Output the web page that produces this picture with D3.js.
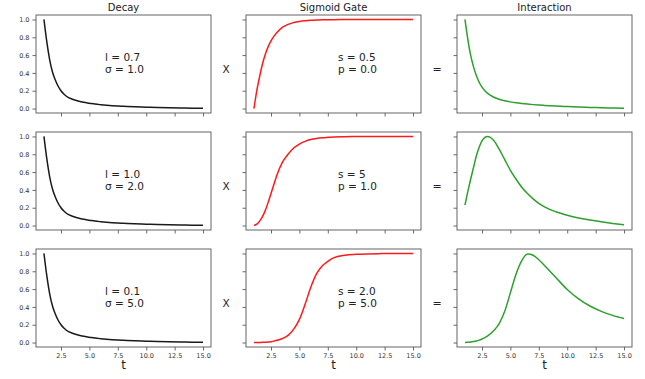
<!DOCTYPE html>
<html>
<head>
<meta charset="utf-8">
<script src="https://cdn.jsdelivr.net/npm/d3@7"></script>
<style>
  body { margin: 0; background: #fff; }
  text { font-family: "DejaVu Sans", sans-serif; }
</style>
</head>
<body>
<div id="chart"></div>
<script>
// shared time grid (t) and curve values
const tGrid = [1, 1.25, 1.5, 1.75, 2, 2.25, 2.5, 2.75, 3, 3.5, 4, 4.5, 5, 5.5, 6, 6.5, 7, 7.5, 8, 9, 10, 11, 12, 13, 14, 15];

const decay = [1.0, 0.75, 0.55, 0.41, 0.32, 0.25, 0.2, 0.163, 0.135, 0.105, 0.085, 0.07, 0.06, 0.05, 0.043, 0.037, 0.032, 0.028, 0.025, 0.019, 0.015, 0.011, 0.008, 0.006, 0.004, 0.002];

const gate1 = [0, 0.2, 0.36, 0.5, 0.61, 0.695, 0.76, 0.81, 0.85, 0.91, 0.945, 0.965, 0.978, 0.986, 0.991, 0.994, 0.996, 0.997, 0.998, 0.999, 1, 1, 1, 1, 1, 1];
const gate2 = [0, 0.015, 0.05, 0.1, 0.17, 0.26, 0.36, 0.46, 0.56, 0.71, 0.8, 0.87, 0.915, 0.945, 0.965, 0.977, 0.985, 0.99, 0.994, 0.997, 0.999, 1, 1, 1, 1, 1];
const gate3 = [0, 0, 0.001, 0.002, 0.004, 0.006, 0.01, 0.016, 0.025, 0.045, 0.08, 0.15, 0.26, 0.43, 0.62, 0.77, 0.86, 0.91, 0.95, 0.98, 0.99, 0.995, 0.998, 1, 1, 1];

const inter1 = [1.0, 0.78, 0.6, 0.47, 0.37, 0.295, 0.24, 0.2, 0.17, 0.13, 0.105, 0.088, 0.075, 0.065, 0.057, 0.05, 0.044, 0.039, 0.035, 0.028, 0.022, 0.017, 0.013, 0.009, 0.006, 0.003];
const inter2 = [0.23, 0.38, 0.52, 0.65, 0.78, 0.88, 0.95, 0.99, 1.0, 0.96, 0.86, 0.74, 0.62, 0.52, 0.43, 0.36, 0.3, 0.25, 0.21, 0.155, 0.116, 0.085, 0.062, 0.042, 0.024, 0.008];
const inter3 = [0, 0.003, 0.007, 0.012, 0.018, 0.027, 0.04, 0.056, 0.075, 0.13, 0.21, 0.35, 0.56, 0.77, 0.92, 0.995, 0.98, 0.93, 0.865, 0.73, 0.595, 0.49, 0.41, 0.35, 0.305, 0.27];

const colTitles = ["Decay", "Sigmoid Gate", "Interaction"];
const decayLabels = [["l = 0.7", "σ = 1.0"], ["l = 1.0", "σ = 2.0"], ["l = 0.1", "σ = 5.0"]];
const gateLabels = [["s = 0.5", "p = 0.0"], ["s = 5", "p = 1.0"], ["s = 2.0", "p = 5.0"]];
const xTicks = [2.5, 5.0, 7.5, 10.0, 12.5, 15.0];
const yTicks = [0.0, 0.2, 0.4, 0.6, 0.8, 1.0];

const width = 645, height = 379;
const colLeft = [36, 246, 457];
const rowTop = [15, 132, 249];
const axW = 175, axH = 98;
const colors = ["#1a1a1a", "#ff1a1a", "#2ca02c"];

const rows = [
  [decay, gate1, inter1],
  [decay, gate2, inter2],
  [decay, gate3, inter3]
];

const svg = d3.select("#chart").append("svg")
  .attr("width", width)
  .attr("height", height);

const x = d3.scaleLinear().domain([0.3, 15.7]).range([0, axW]);
const y = d3.scaleLinear().domain([-0.05, 1.05]).range([axH, 0]);

const line = d3.line()
  .x(d => x(d[0]))
  .y(d => y(d[1]))
  .curve(d3.curveMonotoneX);

rows.forEach((series, r) => {
  series.forEach((vals, c) => {
    const g = svg.append("g").attr("transform", `translate(${colLeft[c]},${rowTop[r]})`);

    const xAxis = d3.axisBottom(x).tickValues(xTicks).tickSize(3.5).tickPadding(2.5)
      .tickFormat(r === 2 ? d3.format(".1f") : "");
    const yAxis = d3.axisLeft(y).tickValues(yTicks).tickSize(3.5).tickPadding(3)
      .tickFormat(c === 0 ? d3.format(".1f") : "");

    const gx = g.append("g").attr("transform", `translate(0,${axH})`).call(xAxis);
    const gy = g.append("g").call(yAxis);
    [gx, gy].forEach(a => {
      a.select(".domain").remove();
      a.selectAll("line").attr("stroke", "#444").attr("stroke-width", 0.8);
      a.selectAll("text").attr("fill", "#333").style("font-size", "6.5px");
    });

    g.append("path")
      .datum(tGrid.map((t, i) => [t, vals[i]]))
      .attr("d", line)
      .attr("fill", "none")
      .attr("stroke", colors[c])
      .attr("stroke-width", 1.5);

    g.append("rect")
      .attr("width", axW).attr("height", axH)
      .attr("fill", "none")
      .attr("stroke", "#555")
      .attr("stroke-width", 0.9);

    if (r === 0) {
      g.append("text")
        .attr("x", axW / 2).attr("y", -4)
        .attr("text-anchor", "middle")
        .style("font-size", "10px")
        .attr("fill", "#222")
        .text(colTitles[c]);
    }
    if (r === 2) {
      g.append("text")
        .attr("x", axW / 2).attr("y", axH + 22)
        .attr("text-anchor", "middle")
        .style("font-size", "12px")
        .attr("fill", "#222")
        .text("t");
    }

    // parameter annotations
    const labels = c === 0 ? decayLabels[r] : c === 1 ? gateLabels[r] : null;
    if (labels) {
      labels.forEach((s, k) => {
        g.append("text")
          .attr("x", c === 0 ? 69 : 92)
          .attr("y", 46 + k * 11.7)
          .style("font-size", "10.5px")
          .attr("fill", "#222")
          .text(s);
      });
    }
  });

  // operators between panels
  svg.append("text")
    .attr("x", 226).attr("y", rowTop[r] + 58)
    .attr("text-anchor", "middle")
    .style("font-size", "10.5px")
    .attr("fill", "#222")
    .text("X");
  svg.append("text")
    .attr("x", 437).attr("y", rowTop[r] + 58)
    .attr("text-anchor", "middle")
    .style("font-size", "11px")
    .attr("fill", "#222")
    .text("=");
});
</script>
</body>
</html>
